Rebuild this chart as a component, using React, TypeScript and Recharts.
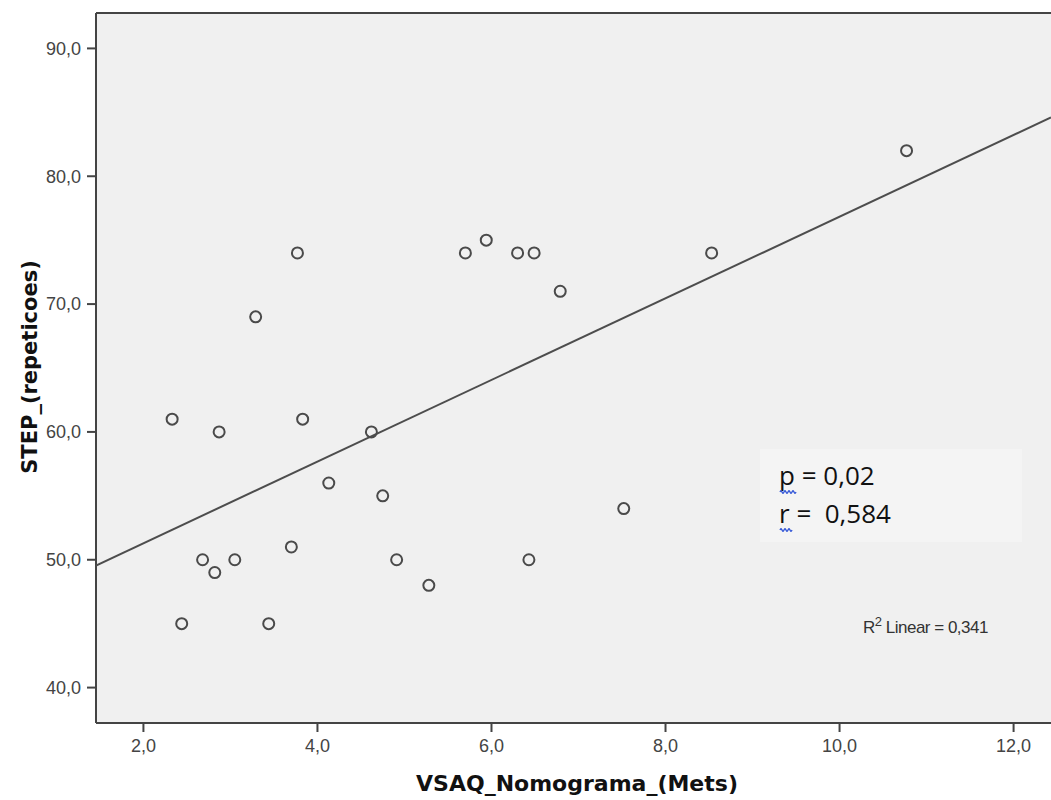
import { ScatterChart, Scatter, XAxis, YAxis, CartesianGrid, ReferenceLine } from "recharts"

// VSAQ nomogram (METs) vs STEP repetitions
const vsaq = [3.77, 3.29, 5.7, 5.94, 6.3, 6.49, 6.79, 2.33, 2.87, 3.83, 4.62, 4.13, 4.75, 3.7, 2.68, 2.82, 3.05, 4.91, 6.43, 5.28, 2.44, 3.44, 10.77, 7.52, 8.53]
const step = [74, 69, 74, 75, 74, 74, 71, 61, 60, 61, 60, 56, 55, 51, 50, 49, 50, 50, 50, 48, 45, 45, 82, 54, 74]

// fit line end points
const fitX = [1.455, 12.43]
const fitY = [49.55, 84.6]

const xTicks = [2, 4, 6, 8, 10, 12]
const yTicks = [40, 50, 60, 70, 80, 90]
const xDomain = [1.455, 12.43]
const yDomain = [37.23, 92.77]

const xTitle = "VSAQ_Nomograma_(Mets)"
const yTitle = "STEP_(repeticoes)"
const statLines = ["p = 0,02", "r =  0,584"]
const r2Value = "0,341"

const points = vsaq.map((x, i) => ({ x, y: step[i] }))
const fitData = fitX.map((x, i) => ({ x, y: fitY[i] }))

const fmt = (v: number) => v.toFixed(1).replace(".", ",")

const tickStyle = { fill: "#444", fontSize: 18, fontFamily: "Arial, 'Liberation Sans', sans-serif" }

const OpenCircle = (props: any) => (
  <circle cx={props.cx} cy={props.cy} r={5.5} fill="none" stroke="#4a4a4a" strokeWidth={2} />
)

const squiggle = (x: number, y: number, w: number) => {
  let d = `M${x},${y}`
  for (let i = 0; i < w; i += 4) d += ` q1,-2.5 2,0 q1,2.5 2,0`
  return d
}

export default function App() {
  return (
    <div style={{ position: "absolute", left: 0, top: 0, width: 1051, height: 800, background: "#fff" }}>
      <ScatterChart width={1051} height={800} margin={{ top: 13, right: 0, left: 0, bottom: 0 }}>
        <CartesianGrid fill="#f0f0f0" stroke="none" horizontal={false} vertical={false} />
        <XAxis
          type="number"
          dataKey="x"
          domain={xDomain}
          ticks={xTicks}
          allowDataOverflow
          height={77}
          tickFormatter={fmt}
          tick={tickStyle}
          tickSize={9}
          tickMargin={7}
          stroke="#444"
          strokeWidth={2}
        />
        <YAxis
          type="number"
          dataKey="y"
          domain={yDomain}
          ticks={yTicks}
          allowDataOverflow
          width={96}
          tickFormatter={fmt}
          tick={tickStyle}
          tickSize={9}
          tickMargin={6}
          stroke="#444"
          strokeWidth={2}
        />
        <ReferenceLine y={yDomain[1]} stroke="#444" strokeWidth={2} ifOverflow="extendDomain" />
        <Scatter data={fitData} line={{ stroke: "#4d4d4d", strokeWidth: 2 }} shape={() => <g />} isAnimationActive={false} />
        <Scatter data={points} shape={OpenCircle} isAnimationActive={false} />
      </ScatterChart>
      <svg width={1051} height={800} style={{ position: "absolute", left: 0, top: 0, pointerEvents: "none" }}>
        <rect x={760} y={449} width={262} height={93} fill="#f4f4f4" />
        {statLines.map((t, i) => (
          <text key={t} x={779} y={485 + i * 38} fontSize={26} fill="#111" fontFamily="'Open Sans', sans-serif" xmlSpace="preserve">
            {t}
          </text>
        ))}
        <path d={squiggle(780, 492, 16)} fill="none" stroke="#2a4fd6" strokeWidth={1.3} />
        <path d={squiggle(780, 530, 12)} fill="none" stroke="#2a4fd6" strokeWidth={1.3} />
        <text x={863} y={633} fontSize={17} fill="#333" fontFamily="Arial, 'Liberation Sans', sans-serif" letterSpacing={-0.5}>
          R<tspan fontSize={13} dy={-7}>2</tspan>
          <tspan dy={7}> Linear = {r2Value}</tspan>
        </text>
        <text x={577} y={791} textAnchor="middle" fontSize={22} fontWeight="bold" fill="#111" fontFamily="'DejaVu Sans', sans-serif">
          {xTitle}
        </text>
        <text
          x={0}
          y={0}
          transform="translate(37,367) rotate(-90)"
          textAnchor="middle"
          fontSize={21}
          fontWeight="bold"
          fill="#111"
          fontFamily="'DejaVu Sans', sans-serif"
        >
          {yTitle}
        </text>
      </svg>
    </div>
  )
}
